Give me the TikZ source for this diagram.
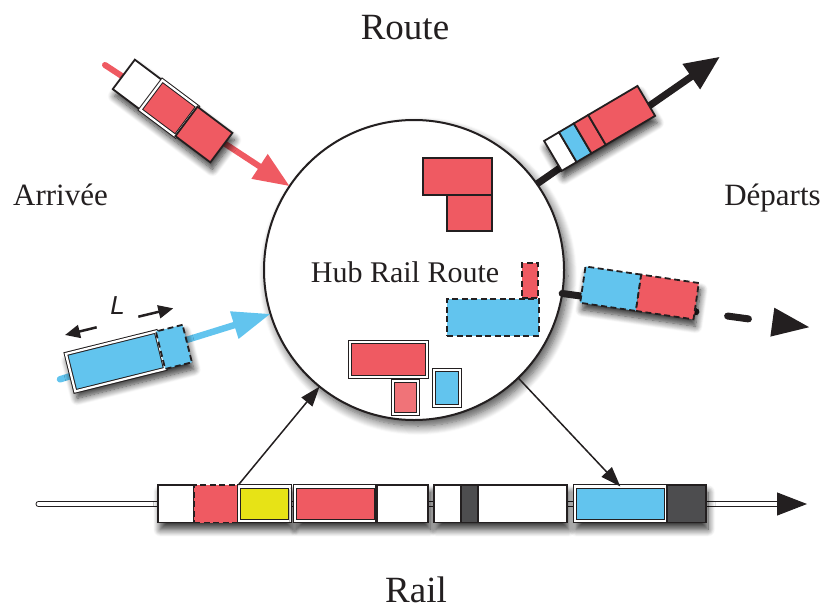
\documentclass[tikz,border=0pt]{standalone}
\usepackage{fontspec}
\setmainfont{Liberation Serif}
\newfontfamily\lfont{Liberation Sans}
\usetikzlibrary{arrows.meta,shadows.blur}
\definecolor{cred}{HTML}{EF5A62}
\definecolor{credl}{HTML}{F07378}
\definecolor{cblue}{HTML}{62C4EE}
\definecolor{cyel}{HTML}{E7E316}
\definecolor{cgray}{HTML}{4D4D4F}
\definecolor{cink}{HTML}{231F20}
\tikzset{
  seg/.style={rectangle, draw=cink, line width=1.8pt, inner sep=0pt, outer sep=0pt},
  dseg/.style={seg, dash pattern=on 6pt off 3.5pt},
  wseg/.style={rectangle, draw=cink, line width=1pt, double=white, double distance=2.2pt, inner sep=0pt, outer sep=0pt},
  shadowed/.style={blur shadow={shadow xshift=2pt, shadow yshift=-7pt, shadow blur radius=7pt, shadow opacity=80, shadow blur steps=10}},
  hubshadow/.style={blur shadow={shadow xshift=4pt, shadow yshift=-6pt, shadow blur radius=9pt, shadow opacity=70, shadow blur steps=10}},
  bigtxt/.style={text=cink, anchor=base, inner sep=0pt, font=\fontsize{37}{40}\selectfont},
  midtxt/.style={text=cink, anchor=base, inner sep=0pt, font=\fontsize{31}{34}\selectfont},
  hubtxt/.style={text=cink, anchor=base, inner sep=0pt, font=\fontsize{30}{33}\selectfont},
  thinarrow/.style={draw=cink, line width=1.5pt, -{Triangle[length=20pt,width=14pt]}},
  dimarrow/.style={draw=cink, line width=2.5pt, -{Triangle[length=15pt,width=13pt]}},
}
\begin{document}
\begin{tikzpicture}[x=1pt,y=-1pt]
\useasboundingbox (0,0) rectangle (826,610);

% hub
\node[circle, draw=cink, line width=2pt, fill=white, minimum size=300pt, inner sep=0pt, outer sep=0pt, hubshadow] (hub) at (414,270) {};

% road arrows
\coordinate (ra0) at (105,65);
\draw[cred, line width=6pt, line cap=round, -{Triangle[length=36pt,width=28pt]}] (ra0) -- (hub.146.5);
\coordinate (bt1) at (720,56.7);
\draw[cink, line width=7pt, -{Triangle[length=35pt,width=29pt]}] (hub.35) -- (bt1);
\coordinate (ca0) at (60,379.3);
\draw[cblue, line width=6.5pt, line cap=round, -{Triangle[length=38pt,width=27pt]}] (ca0) -- (hub.197.4);
\coordinate (dt1) at (810,327.3);
\draw[cink, line width=7pt, line cap=round, dash pattern=on 135pt off 32pt on 21pt off 60pt, -{Triangle[length=38pt,width=27pt]}] (hub.351.2) -- (dt1);

% truck A (arriving, red)
\begin{scope}[shift={(172.6,111)}, rotate=-36.9, transform shape]
  \path[shadowed] (-61,-18.4) rectangle (61,18.4);
  \node[seg, fill=white, minimum width=34.4, minimum height=36.8] (ta1) at (-43.8,0) {};
  \node[wseg, fill=cred, minimum width=43.9, minimum height=36.8] (ta2) at (-4.65,0) {};
  \node[seg, fill=cred, minimum width=43.7, minimum height=36.8] (ta3) at (39.15,0) {};
\end{scope}

% truck B (departing)
\begin{scope}[shift={(599.6,128.4)}, rotate=30.5, transform shape]
  \path[shadowed] (-54.2,-17.35) rectangle (54.2,17.35);
  \node[seg, fill=white, minimum width=17.3, minimum height=34.7] (tb1) at (-45.55,0) {};
  \node[seg, fill=cblue, minimum width=17.2, minimum height=34.7] (tb2) at (-28.3,0) {};
  \node[seg, fill=cred, minimum width=16.7, minimum height=34.7] (tb3) at (-11.35,0) {};
  \node[seg, fill=cred, minimum width=57.2, minimum height=34.7] (tb4) at (25.6,0) {};
\end{scope}

% truck C (arriving, blue)
\begin{scope}[shift={(128.9,358.1)}, rotate=14, transform shape]
  \path[shadowed] (-60.1,-19.3) rectangle (60.1,19.3);
  \node[wseg, fill=cblue, minimum width=92.7, minimum height=38.6] (tc1) at (-13.75,0) {};
  \node[dseg, fill=cblue, minimum width=27.5, minimum height=38.6] (tc2) at (46.35,0) {};
\end{scope}

% L dimension
\node[text=cink, inner sep=0pt, font=\lfont\itshape\fontsize{26}{28}\selectfont] (Llab) at (117.5,306) {L};
\coordinate (dl0) at (96.7,327.3);
\coordinate (dl1) at (65,335);
\coordinate (dr0) at (138.3,316.7);
\coordinate (dr1) at (173.3,308.3);
\draw[dimarrow] (dl0) -- (dl1);
\draw[dimarrow] (dr0) -- (dr1);

% truck D (departing, dashed)
\begin{scope}[shift={(639.5,292.9)}, rotate=-8.3, transform shape]
  \path[shadowed] (-57.25,-18.35) rectangle (57.25,18.35);
  \node[dseg, fill=cblue, minimum width=56.3, minimum height=36.7] (td1) at (-29.1,0) {};
  \node[dseg, fill=cred, minimum width=58.2, minimum height=36.7] (td2) at (28.15,0) {};
\end{scope}

% hub contents
\node[seg, fill=cred, minimum width=69, minimum height=36.7] (h1) at (457.8,176.65) {};
\node[seg, fill=cred, minimum width=45, minimum height=36] (h2) at (469.8,213) {};
\node[dseg, fill=cred, minimum width=16.6, minimum height=35] (h3) at (530,280.8) {};
\node[dseg, fill=cblue, minimum width=91.7, minimum height=36.7] (h4) at (493.15,317.35) {};
\node[wseg, fill=cred, minimum width=77, minimum height=35.3] (h5) at (388.8,359.65) {};
\node[wseg, fill=credl, minimum width=25.3, minimum height=32.7] (h6) at (405.35,397.65) {};
\node[wseg, fill=cblue, minimum width=25.4, minimum height=35.4] (h7) at (447,388) {};

% rail
\coordinate (rs) at (38.3,504);
\coordinate (re) at (777,504);
\coordinate (rtip) at (807,504);
\draw[draw=cink, line width=1pt, double=white, double distance=3.5pt, line cap=round] (rs) -- (re);
\draw[cink, line width=1pt, -{Triangle[length=30pt,width=23pt]}] (re) -- (rtip);

% wagons
\node[seg, draw=none, fill=white, shadowed, minimum width=132.4, minimum height=37.5] (w1) at (224.5,503.75) {};
\node[seg, fill=white, minimum width=35.7, minimum height=37.5] (w1a) at (176.15,503.75) {};
\node[dseg, fill=cred, minimum width=44.3, minimum height=37.5] (w1r) at (216.15,503.75) {};
\node[seg, fill=white, minimum width=52.4, minimum height=37.5] (w1c) at (264.5,503.75) {};
\node[wseg, fill=cyel, minimum width=50.4, minimum height=34.5] (w1y) at (264.5,503.75) {};

\node[seg, fill=white, shadowed, minimum width=134, minimum height=37.5] (w2) at (361.3,503.75) {};
\node[wseg, fill=cred, minimum width=80.4, minimum height=34.5] (w2r) at (335.5,503.75) {};
\draw[cink, line width=1.8pt] (w2r.north east |- w2.north) -- (w2r.north east |- w2.south);

\node[seg, fill=white, shadowed, minimum width=132.7, minimum height=37.5] (w3) at (500.35,503.75) {};
\node[seg, fill=cgray, minimum width=17.6, minimum height=37.5] (w3g) at (469.5,503.75) {};

\node[seg, fill=white, shadowed, minimum width=132, minimum height=37.5] (w4) at (640,503.75) {};
\node[wseg, fill=cblue, minimum width=90.7, minimum height=34.5] (w4b) at (620.35,503.75) {};
\node[seg, fill=cgray, minimum width=39.3, minimum height=37.5] (w4g) at (686.35,503.75) {};

% rail <-> hub transfers
\draw[thinarrow] (w1r.north east) -- (hub.231.4);
\draw[thinarrow] (hub.314) -- (w4b.north);

% labels
\node[bigtxt] (troute) at (405,40) {Route};
\node[bigtxt] (trail) at (416,602) {Rail};
\node[midtxt] (tarr) at (60.5,205) {Arrivée};
\node[midtxt] (tdep) at (772.5,205) {Départs};
\node[hubtxt] (thub) at (405,282) {Hub Rail Route};
\end{tikzpicture}
\end{document}
